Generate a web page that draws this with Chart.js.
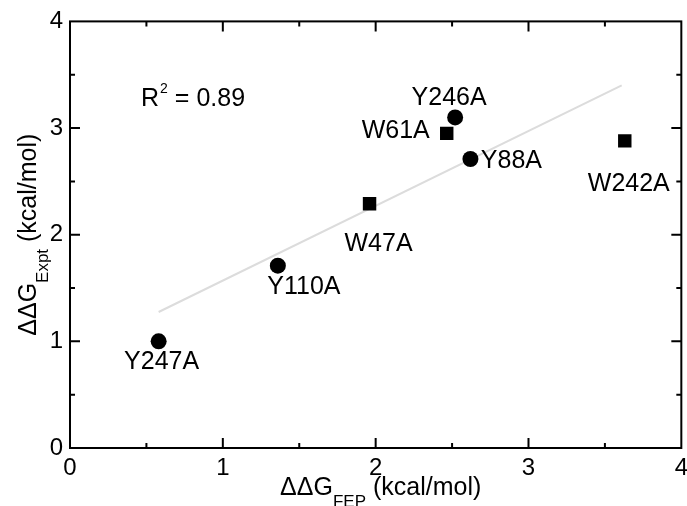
<!DOCTYPE html>
<html>
<head>
<meta charset="utf-8">
<script src="https://cdn.jsdelivr.net/npm/chart.js@4.4.1/dist/chart.umd.min.js"></script>
<style>
  html, body { margin: 0; padding: 0; background: #fff; overflow: hidden; }
  #wrap { width: 694px; height: 506px; }
</style>
</head>
<body>
<div id="wrap"><canvas id="chart"></canvas></div>
<script>
// 圆点突变体
const circleNames = ['Y247A', 'Y110A', 'Y246A', 'Y88A'];
const circleFEP = [0.58, 1.36, 2.52, 2.62];
const circleExpt = [1.00, 1.71, 3.10, 2.71];

// 方块突变体
const squareNames = ['W47A', 'W61A', 'W242A'];
const squareFEP = [1.96, 2.465, 3.63];
const squareExpt = [2.29, 2.95, 2.88];

// 拟合线
const fitFEP = [0.58, 3.61];
const fitExpt = [1.275, 3.40];

// 坐标轴刻度
const xTicks = [0, 1, 2, 3, 4];
const yTicks = [0, 1, 2, 3, 4];

const rSquared = '0.89';

const FONT = '"Liberation Sans", Arial, Helvetica, sans-serif';

// 标签相对点的偏移 (px)
const labelOffsets = {
  Y247A: [3, 21],
  Y110A: [26, 21],
  Y246A: [-6, -19],
  Y88A: [41, 2],
  W47A: [9, 40],
  W61A: [-51, -2],
  W242A: [4, 43]
};

function toPoints(xs, ys) {
  return xs.map((x, i) => ({ x: x, y: ys[i] }));
}

// 画带下标的文字
function drawSubText(ctx, x, y, main, sub, tail) {
  ctx.font = '25px ' + FONT;
  const w1 = ctx.measureText(main).width;
  const w3 = ctx.measureText(tail).width;
  ctx.font = '17px ' + FONT;
  const w2 = ctx.measureText(sub).width;
  const start = x - (w1 + w2 + w3) / 2;
  ctx.textAlign = 'left';
  ctx.textBaseline = 'alphabetic';
  ctx.font = '25px ' + FONT;
  ctx.fillText(main, start, y);
  ctx.font = '17px ' + FONT;
  ctx.fillText(sub, start + w1, y + 12);
  ctx.font = '25px ' + FONT;
  ctx.fillText(tail, start + w1 + w2, y);
}

const decorPlugin = {
  id: 'decor',
  afterDatasetsDraw(chart) {
    const ctx = chart.ctx;
    const area = chart.chartArea;
    const xs = chart.scales.x;
    const ys = chart.scales.y;
    ctx.save();

    // 外框
    ctx.strokeStyle = '#000';
    ctx.lineWidth = 2;
    ctx.strokeRect(area.left, area.top, area.right - area.left, area.bottom - area.top);

    // 内向刻度
    for (let v = 0.5; v < 4; v += 0.5) {
      const len = Number.isInteger(v) ? 10 : 5;
      const px = xs.getPixelForValue(v);
      const py = ys.getPixelForValue(v);
      ctx.beginPath();
      ctx.moveTo(px, area.bottom); ctx.lineTo(px, area.bottom - len);
      ctx.moveTo(px, area.top); ctx.lineTo(px, area.top + len);
      ctx.moveTo(area.left, py); ctx.lineTo(area.left + len, py);
      ctx.moveTo(area.right, py); ctx.lineTo(area.right - len, py);
      ctx.stroke();
    }

    // 点标签
    ctx.fillStyle = '#000';
    ctx.font = '25px ' + FONT;
    ctx.textAlign = 'center';
    ctx.textBaseline = 'middle';
    [[0, circleNames], [1, squareNames]].forEach(([idx, names]) => {
      const meta = chart.getDatasetMeta(idx);
      meta.data.forEach((pt, i) => {
        const off = labelOffsets[names[i]];
        ctx.fillText(names[i], pt.x + off[0], pt.y + off[1]);
      });
    });

    // R^2
    const rx = xs.getPixelForValue(0.465);
    const ry = ys.getPixelForValue(3.205);
    ctx.textAlign = 'left';
    ctx.textBaseline = 'alphabetic';
    ctx.font = '25px ' + FONT;
    ctx.fillText('R', rx, ry);
    const wr = ctx.measureText('R').width;
    ctx.font = '14px ' + FONT;
    ctx.fillText('2', rx + wr + 1, ry - 13);
    const w2 = ctx.measureText('2').width;
    ctx.font = '25px ' + FONT;
    ctx.fillText(' = ' + rSquared, rx + wr + w2 + 1, ry);

    // 坐标轴标题
    drawSubText(ctx, (area.left + area.right) / 2 + 5, 495, '\u0394\u0394G', 'FEP', ' (kcal/mol)');
    ctx.save();
    ctx.translate(36, (area.top + area.bottom) / 2);
    ctx.rotate(-Math.PI / 2);
    drawSubText(ctx, 0, 0, '\u0394\u0394G', 'Expt', ' (kcal/mol)');
    ctx.restore();

    ctx.restore();
  }
};

const ctx = document.getElementById('chart').getContext('2d');

new Chart(ctx, {
  type: 'scatter',
  data: {
    datasets: [
      {
        label: 'Y',
        data: toPoints(circleFEP, circleExpt),
        pointStyle: 'circle',
        pointRadius: 8,
        pointHoverRadius: 8,
        backgroundColor: '#000',
        borderColor: '#000',
        borderWidth: 0,
        order: 1
      },
      {
        label: 'W',
        data: toPoints(squareFEP, squareExpt),
        pointStyle: 'rect',
        pointRadius: 9.5,
        pointHoverRadius: 9.5,
        backgroundColor: '#000',
        borderColor: '#000',
        borderWidth: 0,
        order: 1
      },
      {
        type: 'line',
        label: 'fit',
        data: toPoints(fitFEP, fitExpt),
        borderColor: '#dcdcdc',
        borderWidth: 2,
        pointRadius: 0,
        fill: false,
        order: 2
      }
    ]
  },
  options: {
    responsive: true,
    maintainAspectRatio: false,
    animation: false,
    layout: {
      padding: { top: 20, right: 3, left: 0, bottom: 0 }
    },
    plugins: {
      legend: { display: false },
      tooltip: { enabled: false }
    },
    scales: {
      x: {
        type: 'linear',
        min: 0,
        max: 4,
        afterBuildTicks: s => { s.ticks = xTicks.map(v => ({ value: v })); },
        ticks: {
          color: '#000',
          font: { family: FONT, size: 24 },
          padding: 6,
          maxRotation: 0
        },
        grid: { display: false, drawTicks: false },
        border: { display: false },
        afterFit: s => {
          s.height = 58;
        }
      },
      y: {
        type: 'linear',
        min: 0,
        max: 4,
        afterBuildTicks: s => { s.ticks = yTicks.map(v => ({ value: v })); },
        ticks: {
          color: '#000',
          font: { family: FONT, size: 24 },
          padding: 7
        },
        grid: { display: false, drawTicks: false },
        border: { display: false },
        afterFit: s => {
          s.width = 70;
        }
      }
    }
  },
  plugins: [decorPlugin]
});
</script>
</body>
</html>
